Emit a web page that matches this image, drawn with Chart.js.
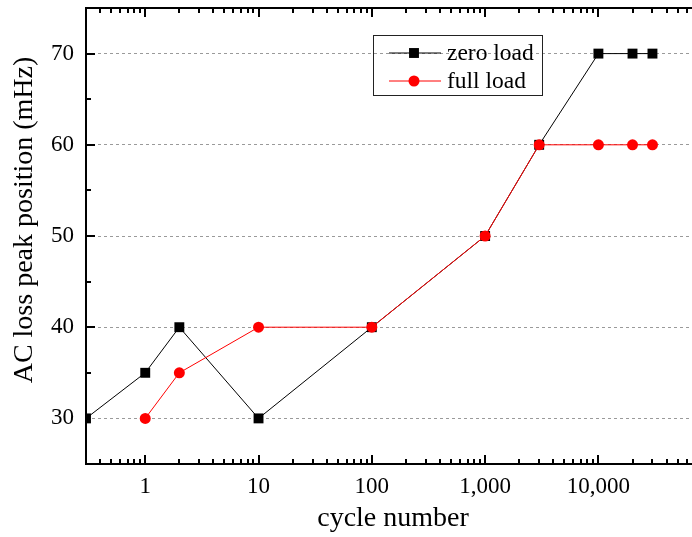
<!DOCTYPE html>
<html><head><meta charset="utf-8">
<script src="https://cdn.jsdelivr.net/npm/chart.js@4/dist/chart.umd.min.js"></script>
<style>html,body{margin:0;padding:0;background:#fff;overflow:hidden}</style>
</head><body>
<canvas id="c" width="692" height="537" style="display:block;width:692px;height:537px"></canvas>
<script>
// ---- data ----
const zeroLoadCycles = [0.3, 1, 2, 10, 100, 1000, 3000, 10000, 20000, 30000];
const zeroLoadPeak   = [30, 35, 40, 30, 40, 50, 60, 70, 70, 70];
const fullLoadCycles = [1, 2, 10, 100, 1000, 3000, 10000, 20000, 30000];
const fullLoadPeak   = [30, 35, 40, 40, 50, 60, 60, 60, 60];
const xTickValues = [1, 10, 100, 1000, 10000];
const yTickValues = [30, 40, 50, 60, 70];
const seriesNames = ['zero load', 'full load'];
const xTitle = 'cycle number';
const yTitle = 'AC loss peak position (mHz)';

const FONT = '"Liberation Serif", "Times New Roman", serif';

function toPoints(xs, ys) { return xs.map((v, i) => ({x: v, y: ys[i]})); }

const framePlugin = {
  id: 'frame',
  afterDatasetsDraw(chart) {
    const {ctx, chartArea: a, scales: {x, y}} = chart;
    ctx.save();
    ctx.strokeStyle = '#000';
    ctx.lineWidth = 2;
    ctx.beginPath();
    ctx.moveTo(a.left, a.top); ctx.lineTo(a.left, a.bottom); ctx.lineTo(a.right + 2, a.bottom);
    ctx.moveTo(a.left - 1, a.top); ctx.lineTo(a.right + 2, a.top);
    ctx.stroke();
    ctx.beginPath();
    for (let d = -1; d <= 5; d++) {
      for (let m = 1; m <= 9; m++) {
        const v = m * Math.pow(10, d);
        if (v < x.min || v > x.max) continue;
        const px = Math.round(x.getPixelForValue(v));
        const len = m === 1 ? 9 : 5;
        ctx.moveTo(px, a.bottom); ctx.lineTo(px, a.bottom - len);
        ctx.moveTo(px, a.top); ctx.lineTo(px, a.top + len);
      }
    }
    for (let v = 35; v <= 70; v += 5) {
      const py = Math.round(y.getPixelForValue(v));
      const len = v % 10 === 0 ? 9 : 5;
      ctx.moveTo(a.left, py); ctx.lineTo(a.left + len, py);
    }
    ctx.stroke();
    ctx.restore();
  },
  afterDraw(chart) {
    const {ctx, chartArea: a} = chart;
    ctx.save();
    ctx.fillStyle = '#000';
    // axis titles
    ctx.font = '28px ' + FONT;
    ctx.textAlign = 'center';
    ctx.textBaseline = 'alphabetic';
    ctx.fillText(xTitle, (a.left + a.right) / 2 + 4, 526);
    ctx.translate(32, 220);
    ctx.rotate(-Math.PI / 2);
    ctx.fillText(yTitle, 0, 0);
    ctx.restore();

    // legend
    ctx.save();
    ctx.strokeStyle = '#222';
    ctx.lineWidth = 1;
    ctx.strokeRect(373.5, 35.5, 169, 60);
    const rows = [53, 81];
    const order = [1, 0]; // dataset index for zero load, full load
    order.forEach((di, r) => {
      const ds = chart.data.datasets[di];
      const yy = rows[r];
      ctx.strokeStyle = ds.borderColor;
      ctx.lineWidth = ds.borderWidth;
      ctx.beginPath(); ctx.moveTo(389, yy); ctx.lineTo(441, yy); ctx.stroke();
      ctx.fillStyle = ds.pointBackgroundColor;
      ctx.strokeStyle = ds.pointBorderColor;
      Chart.helpers.drawPoint(ctx, {pointStyle: ds.pointStyle, radius: ds.pointRadius, rotation: 0, borderWidth: 0}, 414, yy);
      ctx.fillStyle = '#000';
      ctx.font = '23.5px ' + FONT;
      ctx.textAlign = 'left';
      ctx.textBaseline = 'middle';
      ctx.fillText(ds.label, 447, yy + 1);
    });
    ctx.restore();
  }
};

new Chart(document.getElementById('c'), {
  type: 'line',
  data: {
    datasets: [
      {
        label: seriesNames[1],
        data: toPoints(fullLoadCycles, fullLoadPeak),
        borderColor: '#ff0000', backgroundColor: '#ff0000',
        pointBackgroundColor: '#ff0000', pointBorderColor: '#ff0000',
        borderWidth: 1, pointStyle: 'circle', pointRadius: 5.5, pointBorderWidth: 0,
        tension: 0, order: 1
      },
      {
        label: seriesNames[0],
        data: toPoints(zeroLoadCycles, zeroLoadPeak),
        borderColor: '#000000', backgroundColor: '#000000',
        pointBackgroundColor: '#000000', pointBorderColor: '#000000',
        borderWidth: 1, pointStyle: 'rect', pointRadius: 7, pointBorderWidth: 0,
        tension: 0, order: 2
      }
    ]
  },
  options: {
    responsive: false,
    animation: false,
    events: [],
    layout: {autoPadding: false, padding: {left: 0, right: 0, top: 8, bottom: 0}},
    plugins: {legend: {display: false}, tooltip: {enabled: false}, title: {display: false}},
    scales: {
      x: {
        type: 'logarithmic',
        min: 0.3, max: 67000,
        afterBuildTicks: s => { s.ticks = xTickValues.map(v => ({value: v})); },
        afterFit: s => { s.height = 73; s.paddingLeft = 0; s.paddingRight = 0; },
        grid: {display: false, drawTicks: false},
        border: {display: false},
        ticks: {
          autoSkip: false, maxRotation: 0, padding: 9, color: '#000',
          font: {family: FONT, size: 23},
          callback: v => Number(v).toLocaleString('en-US')
        },
        title: {display: false}
      },
      y: {
        type: 'linear',
        min: 25, max: 75,
        afterBuildTicks: s => { s.ticks = yTickValues.map(v => ({value: v})); },
        afterFit: s => { s.width = 86; s.paddingTop = 0; s.paddingBottom = 0; },
        grid: {display: true, drawTicks: false, color: '#9a9a9a', lineWidth: 1},
        border: {display: false, dash: [3, 3]},
        ticks: {padding: 12, color: '#000', font: {family: FONT, size: 23}},
        title: {display: false}
      }
    }
  },
  plugins: [framePlugin]
});
</script>
</body></html>
